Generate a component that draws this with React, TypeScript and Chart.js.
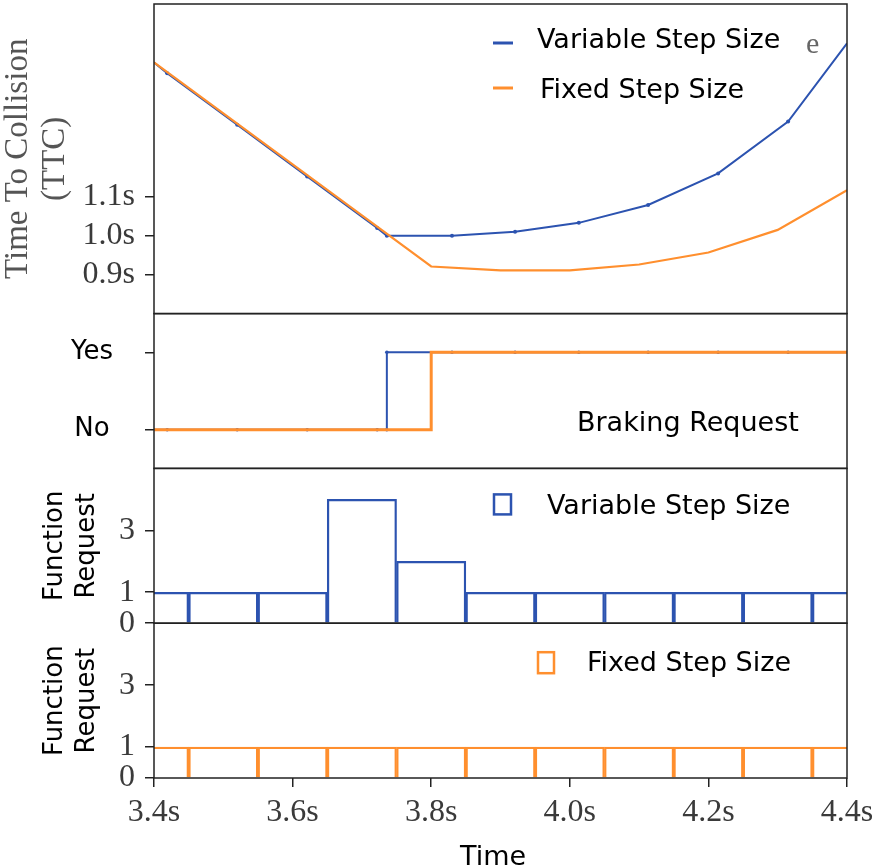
import React, { useEffect, useRef } from 'react';
import { Chart, registerables } from 'chart.js';

Chart.register(...registerables);

const BLUE = '#2c53b0';
const ORANGE = '#ff8f2e';
const AXIS = '#222222';
const SERIF = '"Liberation Serif", "DejaVu Serif", serif';
const SANS = '"DejaVu Sans", Verdana, sans-serif';

// Time To Collision, variable step size (blue, with markers)
const ttcVarTimes = [3.4, 3.419, 3.52, 3.621, 3.722, 3.736, 3.83, 3.921, 4.013, 4.113, 4.214, 4.315, 4.4];
const ttcVarValues = [1.445, 1.417, 1.285, 1.152, 1.02, 1.0, 1.0, 1.01, 1.033, 1.079, 1.16, 1.293, 1.494];
const ttcVarMarker = [0, 2, 2, 2, 2, 2, 2, 2, 2, 2, 2, 2, 0];

// Time To Collision, fixed step size (orange)
const ttcFixTimes = [3.4, 3.5, 3.6, 3.7, 3.8, 3.9, 4.0, 4.1, 4.2, 4.3, 4.4];
const ttcFixValues = [1.445, 1.314, 1.183, 1.052, 0.921, 0.911, 0.911, 0.926, 0.957, 1.015, 1.117];

// Braking request (0 = No, 1 = Yes)
const brakeVarTimes = [3.4, 3.419, 3.52, 3.621, 3.722, 3.736, 3.736, 3.83, 3.921, 4.013, 4.113, 4.214, 4.315, 4.4];
const brakeVarValues = [0, 0, 0, 0, 0, 0, 1, 1, 1, 1, 1, 1, 1, 1];
const brakeVarMarker = [0, 1.8, 1.8, 1.8, 1.8, 1.8, 1.8, 1.8, 1.8, 1.8, 1.8, 1.8, 1.8, 0];
const brakeFixTimes = [3.4, 3.8, 3.8, 4.4];
const brakeFixValues = [0, 0, 1, 1];

// Function requests per 0.1 s interval
const requestTimes = [3.4, 3.5, 3.6, 3.7, 3.8, 3.9, 4.0, 4.1, 4.2, 4.3, 4.4];
const requestVarCounts = [1, 1, 1, 4, 2, 1, 1, 1, 1, 1, 1];
const requestFixCounts = [1, 1, 1, 1, 1, 1, 1, 1, 1, 1, 1];

// Tick values
const xTicks = [3.4, 3.6, 3.8, 4.0, 4.2, 4.4];
const ttcTicks = [0.9, 1.0, 1.1];
const brakeTicks = [0, 1];
const brakeLabels = ['No', 'Yes'];
const requestTicks = [0, 1, 3];

const pts = (xs: number[], ys: number[]) => xs.map((x, i) => ({ x, y: ys[i] }));

const tickGrid = {
  display: true,
  drawOnChartArea: false,
  drawTicks: true,
  tickLength: 9,
  color: AXIS,
  lineWidth: 1.5,
};

const fitY = (s: any) => {
  s.width = 154;
  s.paddingTop = 0;
  s.paddingBottom = 0;
};

const panelPlugin = {
  id: 'panelDecor',
  afterDatasetsDraw(chart: any) {
    const ctx = chart.ctx as CanvasRenderingContext2D;
    const { left, right } = chart.chartArea;
    const sT = chart.scales.yTTC;
    const sB = chart.scales.yBrake;
    const sV = chart.scales.yVar;
    const sF = chart.scales.yFix;
    ctx.save();
    // panel frames
    ctx.strokeStyle = AXIS;
    ctx.lineWidth = 1.5;
    for (const s of [sT, sB, sV, sF]) {
      ctx.strokeRect(left, s.top, right - left, s.bottom - s.top);
    }
    // legend of TTC panel
    ctx.lineWidth = 3;
    ctx.strokeStyle = BLUE;
    ctx.beginPath();
    ctx.moveTo(left + 339, sT.top + 39);
    ctx.lineTo(left + 359, sT.top + 39);
    ctx.stroke();
    ctx.strokeStyle = ORANGE;
    ctx.beginPath();
    ctx.moveTo(left + 339, sT.top + 84);
    ctx.lineTo(left + 359, sT.top + 84);
    ctx.stroke();
    // legend boxes
    ctx.lineWidth = 2.5;
    ctx.strokeStyle = BLUE;
    ctx.strokeRect(left + 340, sV.top + 26, 17, 20);
    ctx.strokeStyle = ORANGE;
    ctx.strokeRect(left + 384, sF.top + 29, 16, 21);

    ctx.fillStyle = '#000';
    ctx.textBaseline = 'middle';
    ctx.textAlign = 'left';
    ctx.font = `27px ${SANS}`;
    ctx.fillText('Variable Step Size', left + 383, sT.top + 37);
    ctx.fillText('Fixed Step Size', left + 386, sT.top + 87);
    ctx.fillText('Braking Request', left + 423, sB.top + 110);
    ctx.fillText('Variable Step Size', left + 393, sV.top + 39);
    ctx.fillText('Fixed Step Size', left + 433, sF.top + 41);
    ctx.fillText('Time', left + 306, chart.height - 10);
    ctx.fillStyle = '#666';
    ctx.font = `30px ${SERIF}`;
    ctx.fillText('e', left + 652, sT.top + 41);
    ctx.restore();
  },
};

export default function App() {
  const ref = useRef<HTMLCanvasElement>(null);

  useEffect(() => {
    const setTicks = (vals: number[]) => (scale: any) => {
      scale.ticks = vals.map((v) => ({ value: v }));
    };
    const serifTicks = (pad: number, cb: (v: any) => string) => ({
      autoSkip: false,
      padding: pad,
      color: '#3a3a3a',
      font: { family: SERIF, size: 32 },
      callback: cb,
    });
    const frTitle = {
      display: true,
      text: ['Function', 'Request'],
      color: '#000',
      font: { family: SANS, size: 26, lineHeight: 1.2 },
      padding: { top: 40, bottom: 0 },
    };
    const chart = new Chart(ref.current as HTMLCanvasElement, {
      type: 'line',
      data: {
        datasets: [
          {
            type: 'line',
            label: 'Fixed Step Size',
            data: pts(ttcFixTimes, ttcFixValues),
            xAxisID: 'x',
            yAxisID: 'yTTC',
            borderColor: ORANGE,
            borderWidth: 2.2,
            pointRadius: 0,
            tension: 0,
          },
          {
            type: 'line',
            label: 'Variable Step Size',
            data: pts(ttcVarTimes, ttcVarValues),
            xAxisID: 'x',
            yAxisID: 'yTTC',
            borderColor: BLUE,
            borderWidth: 2,
            pointRadius: ttcVarMarker,
            pointBackgroundColor: BLUE,
            pointBorderColor: BLUE,
            pointBorderWidth: 0,
            tension: 0,
          },
          {
            type: 'line',
            label: 'Braking Fixed',
            data: pts(brakeFixTimes, brakeFixValues),
            xAxisID: 'x',
            yAxisID: 'yBrake',
            borderColor: ORANGE,
            borderWidth: 3,
            pointRadius: 0,
            tension: 0,
          },
          {
            type: 'line',
            label: 'Braking Variable',
            data: pts(brakeVarTimes, brakeVarValues),
            xAxisID: 'x',
            yAxisID: 'yBrake',
            borderColor: BLUE,
            borderWidth: 2,
            pointRadius: brakeVarMarker,
            pointBackgroundColor: BLUE,
            pointBorderColor: BLUE,
            pointBorderWidth: 0,
            tension: 0,
          },
          {
            type: 'bar',
            label: 'Function Request Variable',
            data: pts(requestTimes, requestVarCounts),
            xAxisID: 'x',
            yAxisID: 'yVar',
            backgroundColor: 'rgba(0,0,0,0)',
            borderColor: BLUE,
            borderWidth: 1.6,
            barPercentage: 1,
            categoryPercentage: 1,
            grouped: false,
            clip: 0,
          } as any,
          {
            type: 'bar',
            label: 'Function Request Fixed',
            data: pts(requestTimes, requestFixCounts),
            xAxisID: 'x',
            yAxisID: 'yFix',
            backgroundColor: 'rgba(0,0,0,0)',
            borderColor: ORANGE,
            borderWidth: 1.6,
            barPercentage: 1,
            categoryPercentage: 1,
            grouped: false,
            clip: 0,
          } as any,
        ],
      },
      options: {
        responsive: false,
        animation: false,
        events: [],
        layout: { padding: { top: 4, left: 0, right: 29, bottom: 0 } },
        plugins: {
          legend: { display: false },
          tooltip: { enabled: false },
          title: { display: false },
        },
        scales: {
          x: {
            type: 'linear',
            position: 'bottom',
            min: 3.4,
            max: 4.4,
            offset: false,
            afterBuildTicks: setTicks(xTicks),
            afterFit: (s: any) => {
              s.height = 90;
              s.paddingLeft = 0;
              s.paddingRight = 0;
            },
            border: { display: false },
            grid: { ...tickGrid, offset: false },
            ticks: {
              ...serifTicks(6, (v: any) => Number(v).toFixed(1) + 's'),
              maxRotation: 0,
            },
          },
          yFix: {
            type: 'linear',
            position: 'left',
            stack: 'panels',
            stackWeight: 1,
            min: 0,
            max: 5,
            afterBuildTicks: setTicks(requestTicks),
            afterFit: fitY,
            border: { display: false },
            grid: tickGrid,
            ticks: serifTicks(10, (v: any) => String(v)),
            title: frTitle,
          },
          yVar: {
            type: 'linear',
            position: 'left',
            stack: 'panels',
            stackWeight: 1,
            min: 0,
            max: 5,
            afterBuildTicks: setTicks(requestTicks),
            afterFit: fitY,
            border: { display: false },
            grid: tickGrid,
            ticks: serifTicks(10, (v: any) => String(v)),
            title: frTitle,
          },
          yBrake: {
            type: 'linear',
            position: 'left',
            stack: 'panels',
            stackWeight: 1,
            min: -0.5,
            max: 1.5,
            afterBuildTicks: setTicks(brakeTicks),
            afterFit: fitY,
            border: { display: false },
            grid: tickGrid,
            ticks: {
              autoSkip: false,
              padding: 32,
              crossAlign: 'center',
              color: '#000',
              font: { family: SANS, size: 26 },
              callback: (v: any) => brakeLabels[brakeTicks.indexOf(Number(v))],
            },
          },
          yTTC: {
            type: 'linear',
            position: 'left',
            stack: 'panels',
            stackWeight: 2,
            min: 0.8,
            max: 1.595,
            afterBuildTicks: setTicks(ttcTicks),
            afterFit: fitY,
            border: { display: false },
            grid: tickGrid,
            ticks: serifTicks(10, (v: any) => Number(v).toFixed(1) + 's'),
            title: {
              display: true,
              text: ['Time To Collision', '(TTC)'],
              color: '#555',
              font: { family: SERIF, size: 33, lineHeight: 1.12 },
              padding: { top: 0, bottom: 0 },
            },
          },
        } as any,
      },
      plugins: [panelPlugin],
    } as any);
    return () => chart.destroy();
  }, []);

  return (
    <div style={{ position: 'absolute', left: 0, top: 0, width: 876, height: 868, background: '#fff' }}>
      <canvas ref={ref} width={876} height={868} style={{ display: 'block' }} />
    </div>
  );
}
